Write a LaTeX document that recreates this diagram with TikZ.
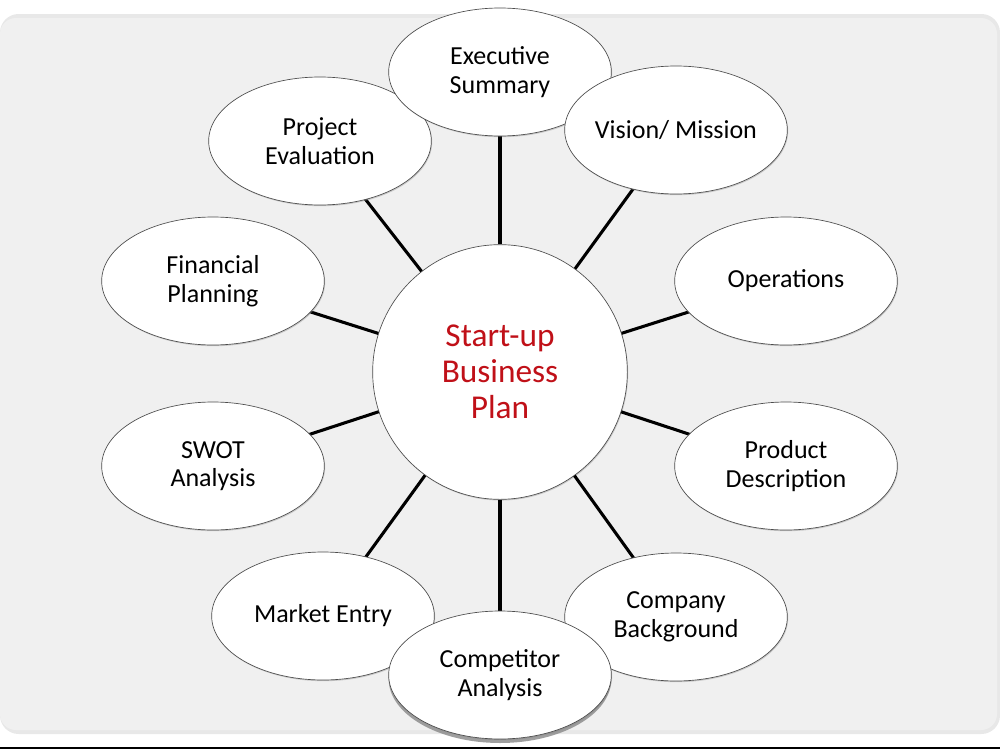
\documentclass[tikz,border=0pt]{standalone}
\usepackage{fontspec}
\setmainfont{Carlito}
\usetikzlibrary{shapes.geometric,shadows}
\definecolor{bgpanel}{RGB}{240,240,240}
\definecolor{panelrim}{RGB}{232,232,232}
\definecolor{titlered}{RGB}{192,16,24}
\tikzset{
  topic/.style={ellipse, draw=gray!60!black, line width=0.5pt, fill=white,
    minimum width=167pt, minimum height=96pt, inner sep=-6pt, align=center,
    font=\fontsize{19.5}{21.5}\selectfont,
    drop shadow={shadow xshift=0.6pt, shadow yshift=-0.9pt, opacity=0.35}},
  hub/.style={circle, draw=gray!60!black, line width=0.5pt, fill=white,
    minimum size=191pt, inner sep=0pt, align=center, text=titlered,
    font=\fontsize{25}{27}\selectfont,
    drop shadow={shadow xshift=0.6pt, shadow yshift=-0.9pt, opacity=0.35}},
  spoke/.style={line width=2.3pt, black},
}
\begin{document}
\begin{tikzpicture}[x=0.75pt,y=-0.75pt]
\useasboundingbox (0,0) rectangle (1000,750);
\fill[white] (0,0) rectangle (1000,750);
\fill[panelrim, rounded corners=14pt] (0,14) rectangle (1000,734);
\fill[bgpanel, rounded corners=12pt] (0,18) rectangle (997,730);
\draw[line width=1.5pt, black] (0,748) -- (1000,748);

\node[hub] (c) at (500,372) {Start-up\\Business\\Plan};

\draw[spoke] (c) -- (213,281) coordinate (pfin);
\draw[spoke] (c) -- (213,466) coordinate (pswot);
\draw[spoke] (c) -- (323,616) coordinate (pmkt);
\draw[spoke] (c) -- (676,617) coordinate (pcomp);
\draw[spoke] (c) -- (786,466) coordinate (pprod);
\draw[spoke] (c) -- (786,281) coordinate (pops);
\draw[spoke] (c) -- (320,141) coordinate (pproj);
\draw[spoke] (c) -- (500,72) coordinate (pexec);
\draw[spoke] (c) -- (676,130) coordinate (pvis);
\draw[spoke] (c) -- (500,675) coordinate (pcompet);

\node[topic] (fin) at (pfin) {Financial\\Planning};
\node[topic] (swot) at (pswot) {SWOT\\Analysis};
\node[topic] (mkt) at (pmkt) {Market Entry};
\node[topic] (comp) at (pcomp) {Company\\Background};
\node[topic] (prod) at (pprod) {Product\\Description};
\node[topic] (ops) at (pops) {Operations};
\node[topic] (proj) at (pproj) {Project\\Evaluation};
\node[topic] (exec) at (pexec) {Executive\\Summary};
\node[topic] (vis) at (pvis) {Vision/ Mission};
\node[topic, drop shadow={shadow xshift=0pt, shadow yshift=-3pt, opacity=0.75}] (compet) at (pcompet) {Competitor\\Analysis};
\end{tikzpicture}
\end{document}
